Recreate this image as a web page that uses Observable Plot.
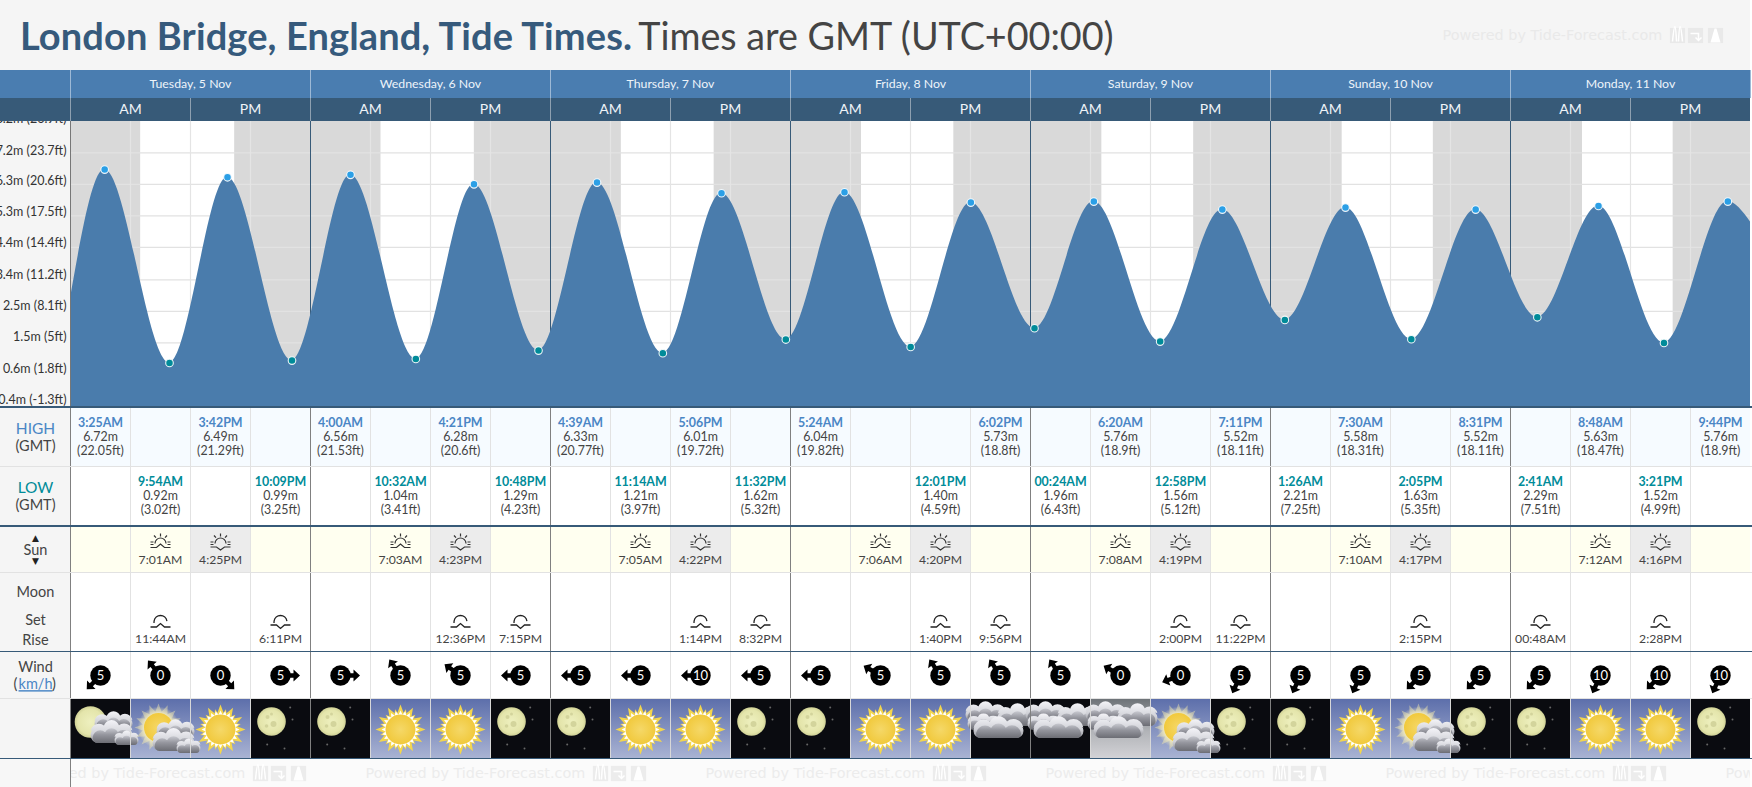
<!doctype html>
<html><head><meta charset="utf-8">
<script src="https://cdn.jsdelivr.net/npm/d3@7"></script>
<script src="https://cdn.jsdelivr.net/npm/@observablehq/plot@0.6"></script>
<style>
html,body{margin:0;padding:0;background:#fff;overflow:hidden;width:1752px;height:787px;font-family:Lato,sans-serif}
#title{position:absolute;left:20px;top:12px;font-size:37.7px;line-height:46px;white-space:nowrap;color:#444}
#title b{color:#365a7c;font-weight:700;font-size:38px;letter-spacing:.11px}
#title span{margin-left:-3.5px}
.u text{text-decoration:underline}
svg{display:block}
</style></head><body>
<div id="chart"></div>
<div id="title"><b>London Bridge, England, Tide Times.</b> <span>Times are GMT (UTC+00:00)</span></div>
<script>
const dayLabels = ["Tuesday, 5 Nov","Wednesday, 6 Nov","Thursday, 7 Nov","Friday, 8 Nov","Saturday, 9 Nov","Sunday, 10 Nov","Monday, 11 Nov"];
const highDay  = [0,0,1,1,2,2,3,3,4,4,5,5,6,6];
const highTime = ["3:25AM","3:42PM","4:00AM","4:21PM","4:39AM","5:06PM","5:24AM","6:02PM","6:20AM","7:11PM","7:30AM","8:31PM","8:48AM","9:44PM"];
const highM    = [6.72,6.49,6.56,6.28,6.33,6.01,6.04,5.73,5.76,5.52,5.58,5.52,5.63,5.76];
const highFt   = [22.05,21.29,21.53,20.6,20.77,19.72,19.82,18.8,18.9,18.11,18.31,18.11,18.47,18.9];
const lowDay   = [0,0,1,1,2,2,3,4,4,5,5,6,6];
const lowTime  = ["9:54AM","10:09PM","10:32AM","10:48PM","11:14AM","11:32PM","12:01PM","00:24AM","12:58PM","1:26AM","2:05PM","2:41AM","3:21PM"];
const lowM     = [0.92,0.99,1.04,1.29,1.21,1.62,1.40,1.96,1.56,2.21,1.63,2.29,1.52];
const lowFt    = [3.02,3.25,3.41,4.23,3.97,5.32,4.59,6.43,5.12,7.25,5.35,7.51,4.99];
const edgeHour = [0,168];
const edgeFt   = [9.36,16.9];
const tickFt   = [26.9,23.7,20.6,17.5,14.4,11.2,8.1,5,1.8,-1.3];
const tickM    = ["8.2","7.2","6.3","5.3","4.4","3.4","2.5","1.5","0.6","-0.4"];
const sunrise  = ["7:01AM","7:03AM","7:05AM","7:06AM","7:08AM","7:10AM","7:12AM"];
const sunset   = ["4:25PM","4:23PM","4:22PM","4:20PM","4:19PM","4:17PM","4:16PM"];
const moonDay  = [0,0,1,1,2,2,3,3,4,4,5,6,6];
const moonTime = ["11:44AM","6:11PM","12:36PM","7:15PM","1:14PM","8:32PM","1:40PM","9:56PM","2:00PM","11:22PM","2:15PM","00:48AM","2:28PM"];
const moonKind = ["rise","set","rise","set","rise","set","rise","set","rise","set","rise","set","rise"];
const windSpeed = [5,0,0,5, 5,5,5,5, 5,5,10,5, 5,5,5,5, 5,0,0,5, 5,5,5,5, 5,10,10,10];
const windDir   = [225,320,135,90, 90,325,305,270, 270,270,270,270, 270,300,325,325, 325,300,250,205, 205,205,225,225, 225,205,225,205];
const wxKind = ["nightCloud","dayCloud","sun","moon","moon","sun","sun","moon","moon","sun","sun","moon","moon","sun","sun","overNight","overNight","overDay","dayCloud","moon","moon","sun","dayCloud","moon","moon","sun","sun","moon"];
const markRepeats = [-4.5,29.5,63.5,97.5,131.5,165.5];
const headerMark = [137.2];

const hourOf = s => { const m = s.match(/(\d+):(\d+)(AM|PM)/); return (+m[1] % 12) + (+m[2]) / 60 + (m[3] === "PM" ? 12 : 0); };
const cellOf = (day, s) => day * 4 + Math.floor(hourOf(s) / 6);
const abs = (day, s) => day * 24 + hourOf(s);
const cellX = i => i * 6 + 3;

const highs = highTime.map((t,i)=>({t,cell:cellOf(highDay[i],t),h:abs(highDay[i],t),m:highM[i],ft:highFt[i]}));
const lows  = lowTime.map((t,i)=>({t,cell:cellOf(lowDay[i],t),h:abs(lowDay[i],t),m:lowM[i],ft:lowFt[i]}));
const edges = edgeHour.map((h,i)=>({h,ft:edgeFt[i]}));
const tide  = [...edges,...highs,...lows].sort((a,b)=>a.h-b.h);
const nights = d3.range(8).map(d=>({a: d===0?0:abs(d-1,sunset[d-1]), b: d===7?168:abs(d,sunrise[d])}));
const sunCells = [...sunrise.map((t,d)=>({t,kind:"rise",cell:cellOf(d,t)})),...sunset.map((t,d)=>({t,kind:"set",cell:cellOf(d,t)}))];
const moons = moonTime.map((t,i)=>({t,kind:moonKind[i],cell:cellOf(moonDay[i],t)}));
const cells = d3.range(28);
const days  = d3.range(7);
const wind  = cells.map(i=>({i,s:windSpeed[i],dir:windDir[i]}));
const wx    = cells.map(i=>({i,kind:wxKind[i]}));

const cellLines = () => cells.filter(i=>i%4);
const rulesOf = (cellColor,dayColor)=>[
  Plot.ruleX(cellLines(),{x:i=>i*6,stroke:cellColor}),
  Plot.ruleX(days,{x:d=>d*24,stroke:dayColor})
];
const paint = (left,row)=>`linear-gradient(to right,${left} 70px,${row} 70px,${row} 1750px,#fff 1750px)`;
function band(height, left, row, marks, border, extra={}){
  return Plot.plot({width:1752,height,marginLeft:70,marginRight:2,marginTop:0,marginBottom:0,
    x:{domain:[0,168],axis:null},
    style:{display:"block",fontFamily:"Lato",background:paint(left,row),borderBottom:border||"none",maxWidth:"none"},
    ...extra, marks});
}
const sideText=(label,dy,opts={})=>Plot.text([label],{frameAnchor:"left",textAnchor:"middle",dx:-35,dy,fontSize:15,fill:"#444",...opts});

/* icon shapes */
function sunIcon(kind){return {draw(c){
  c.moveTo(-5.5,2);c.arc(0,2,5.5,Math.PI,2*Math.PI);
  c.moveTo(0,-8);c.lineTo(0,-5);c.moveTo(-6.5,-6);c.lineTo(-4.5,-3.8);c.moveTo(6.5,-6);c.lineTo(4.5,-3.8);
  c.moveTo(-10,0.5);c.lineTo(-7,0.5);c.moveTo(10,0.5);c.lineTo(7,0.5);
  c.moveTo(-10,3);c.lineTo(-7,3);c.moveTo(10,3);c.lineTo(7,3);
  if(kind==="rise"){c.moveTo(-10,6);c.lineTo(-4,6);c.lineTo(0,2.5);c.lineTo(4,6);c.lineTo(10,6);}
  else{c.moveTo(-10,5.5);c.lineTo(-4,5.5);c.lineTo(0,8.5);c.lineTo(4,5.5);c.lineTo(10,5.5);}
}}}
function moonIcon(kind){return {draw(c){
  c.moveTo(-6.5,2);c.arc(0,1,6.5,Math.PI+0.15,2*Math.PI-0.15);
  if(kind==="rise"){c.moveTo(-10,6);c.lineTo(-4,6);c.lineTo(0,2.5);c.lineTo(4,6);c.lineTo(10,6);}
  else{c.moveTo(-10,4);c.lineTo(-4,4);c.lineTo(0,7.5);c.lineTo(4,4);c.lineTo(10,4);}
}}}
const star = (n,r1,r2)=>({draw(c){
  for(let k=0;k<n*2;k++){const a=k*Math.PI/n-Math.PI/2,r=k%2?r2:r1;
    const x=r*Math.cos(a),y=r*Math.sin(a);k?c.lineTo(x,y):c.moveTo(x,y);} c.closePath();
}});
const arrow={draw(c,l,r){
  c.moveTo(-2.2,-7);c.lineTo(-2.2,-13);c.lineTo(-6,-13);c.lineTo(0,-19.5);c.lineTo(6,-13);c.lineTo(2.2,-13);c.lineTo(2.2,-7);c.closePath();
}};
/* flat-bottomed cloud with three rounded lobes */
const cloudShape=(W,H)=>({draw(c){
  const b=H/2,t=-H/2,rb=H*0.36,lobe=[[W*0.3,W*0.2,t+H*0.28],[0,W*0.19,t+H*0.12],[-W*0.3,W*0.2,t+H*0.3]];
  c.moveTo(-W/2+rb,b);c.lineTo(W/2-rb,b);c.arc(W/2-rb,b-rb,rb,Math.PI/2,-Math.PI/2,true);
  for(const [cx,r,cy] of lobe){c.arc(cx,cy+r*0.55,r,-0.15,Math.PI+0.15,true);}
  c.arc(-W/2+rb,b-rb,rb,-Math.PI/2,Math.PI/2,true);c.closePath();
}});

/* repeated pale watermark */
const wave={draw(c){c.moveTo(-5,6);c.bezierCurveTo(-3,-14,-2,-14,-1,6);c.moveTo(1,6);c.bezierCurveTo(2,-14,3,-14,5,6);}};
const turn={draw(c){c.moveTo(-5,-2);c.lineTo(3,-2);c.lineTo(3,4);c.moveTo(0,2);c.lineTo(3,5);c.lineTo(6,2);}};
const peak={draw(c){c.moveTo(-5,7);c.lineTo(-1,-7);c.lineTo(1,-7);c.lineTo(5,7);c.closePath();}};
function watermark(starts,pale,clip){
  return [
    Plot.text(starts,{x:d=>d,text:()=>"Powered by Tide-Forecast.com",frameAnchor:"middle",textAnchor:"start",fontFamily:"DejaVu Sans",fontSize:14.4,fill:pale,clip}),
    ...[[23.5,wave,"none","#fff"],[25.3,turn,"none","#fff"],[27.3,peak,"#fff","none"]].flatMap(([off,sym,f,s])=>[
      Plot.dot(starts,{x:d=>d+off,frameAnchor:"middle",symbol:"square",r:8.6,fill:pale,clip}),
      Plot.dot(starts,{x:d=>d+off,frameAnchor:"middle",symbol:sym,r:5,fill:f,stroke:s,strokeWidth:1.5,clip})
    ])
  ];
}

/* sky scenes */
const defs = () => {
  const svg = d3.create("svg:defs");
  const lin=(id,stops)=>{const g=svg.append("linearGradient").attr("id",id).attr("x1",0).attr("x2",0).attr("y1",0).attr("y2",1);
    stops.forEach(([o,c])=>g.append("stop").attr("offset",o).attr("stop-color",c));};
  const rad=(id,stops)=>{const g=svg.append("radialGradient").attr("id",id);
    stops.forEach(([o,c,a])=>g.append("stop").attr("offset",o).attr("stop-color",c).attr("stop-opacity",a??1));};
  lin("skyDay",[[0,"#5d6fab"],[1,"#a9b3d3"]]);
  lin("skyGray",[[0,"#6e7378"],[0.55,"#b2b4b8"],[1,"#d2d2d6"]]);
  lin("cloud",[[0,"#f4f4f8"],[0.6,"#d0d1d7"],[1,"#8a8b92"]]);
  lin("cloudInner",[[0,"#c8c9d0"],[0.45,"#94959d"],[1,"#6c6d74"]]);
  rad("disc",[[0,"#f5d868"],[1,"#f1c93c"]]);
  rad("glow",[[0,"#fff6c0"],[0.62,"#fff6c0",0.9],[1,"#fff6c0",0]]);
  rad("moonFace",[[0,"#eef0bf"],[0.8,"#e4e5ab"],[1,"#cfd095"]]);
  return svg.node();
};
const clipCell = i => ({render(index,scales,values,dims,ctx,next){
  const g = next(index,scales,values,dims,ctx);
  const id = `cell-clip-${i}-${Math.random().toString(36).slice(2,8)}`;
  const cp = document.createElementNS("http://www.w3.org/2000/svg","clipPath");
  cp.setAttribute("id",id);
  const r = document.createElementNS("http://www.w3.org/2000/svg","rect");
  r.setAttribute("x",scales.x(i*6));r.setAttribute("width",scales.x(i*6+6)-scales.x(i*6));
  r.setAttribute("y",0);r.setAttribute("height",dims.height);
  cp.appendChild(r);g.appendChild(cp);g.setAttribute("clip-path",`url(#${id})`);
  return g;
}});
const cloudDots = (i,layers,ox=0,oy=0) => layers.flatMap(([dx,dy,W,H])=>[
  Plot.dot([i],{x:cellX,frameAnchor:"middle",dx:dx+ox,dy:dy+oy,symbol:cloudShape(W,H),r:5,fill:"url(#cloud)",...clipCell(i)}),
  Plot.dot([i],{x:cellX,frameAnchor:"middle",dx:dx+ox,dy:dy+oy+H*0.2,symbol:cloudShape(W*0.9,H*0.6),r:5,fill:"url(#cloudInner)",...clipCell(i)})
]);
const smallCloud = [[15,0,38,17],[13,11,42,22],[28,17,24,14]];
const overClouds = [[-15,-17,40,19],[17,-14,40,22],[-17,-7,32,15],[-2,-1,50,20]];

function moonScene(cellsList){
  const starOffsets=[[9.7,-21.5],[12,-9.5],[-13.3,15.5],[4,19.5]];
  const craters=[[-13,-12,2],[-7,-5,3],[-14,-3,1.8],[-9,-15,1.5]];
  return [
    Plot.dot(cellsList,{x:cellX,frameAnchor:"middle",dx:-9,dy:-7.5,r:14.3,fill:"url(#moonFace)"}),
    ...craters.map(([dx,dy,r])=>Plot.dot(cellsList,{x:cellX,frameAnchor:"middle",dx,dy,r,fill:"#d3d49c"})),
    ...starOffsets.map(([dx,dy])=>Plot.dot(cellsList,{x:cellX,frameAnchor:"middle",dx,dy,r:1,fill:"#666"}))
  ];
}
function sunScene(cellsList){
  return [
    Plot.dot(cellsList,{x:cellX,frameAnchor:"middle",dy:0.5,symbol:star(12,25,15),r:5,fill:"#f3d64e"}),
    Plot.dot(cellsList,{x:cellX,frameAnchor:"middle",dy:0.5,symbol:star(24,21,16),r:5,fill:"#f3d64e"}),
    Plot.dot(cellsList,{x:cellX,frameAnchor:"middle",dy:0.5,symbol:star(24,19,15),r:5,fill:"#fff"}),
    Plot.dot(cellsList,{x:cellX,frameAnchor:"middle",dy:0.5,r:15,fill:"url(#disc)"})
  ];
}
const wxOf = k => wx.filter(d=>d.kind===k).map(d=>d.i);
const nightList=[...wxOf("moon"),...wxOf("nightCloud"),...wxOf("overNight")];
const dayList=[...wxOf("sun"),...wxOf("dayCloud")];
const bgRect=(list,fill)=>Plot.rect(list,{x1:i=>i*6,x2:i=>i*6+6,fill});

const rows=[];
/* title strip with watermark */
rows.push(band(70,"#f5f5f5","#f5f5f5",[...watermark(headerMark,"#e9e9e9")]));
/* day band */
rows.push(band(28,"#4a7db0","#4a7db0",[
  Plot.ruleX([...days,7],{x:d=>d*24,stroke:"#9db9d6"}),
  Plot.text(dayLabels,{x:(d,i)=>i*24+12,text:d=>d,frameAnchor:"middle",fontSize:12.3,fill:"#eef4fa"})
]));
/* AM / PM band */
rows.push(band(23,"#375a78","#375a78",[
  Plot.ruleX(days,{x:d=>d*24+12,stroke:"#8ea0b0"}),
  Plot.ruleX(days,{x:d=>d*24,stroke:"#8ea0b0"}),
  Plot.text(days.flatMap(d=>[{x:d*24+6,t:"AM"},{x:d*24+18,t:"PM"}]),{x:"x",text:"t",frameAnchor:"middle",fontSize:14,fill:"#f0f4f8"})
]));
/* tide chart */
rows.push(band(285,"#f5f5f5","#ffffff",[
  Plot.rect(nights,{x1:"a",x2:"b",fill:"#d9d9d9"}),
  Plot.gridY(tickFt,{stroke:"#e2e2e2",strokeOpacity:1,strokeWidth:1.2}),
  Plot.ruleX(cellLines(),{x:i=>i*6,stroke:"#e4e4e4",strokeWidth:1.2}),
  Plot.ruleX(days,{x:d=>d*24,stroke:"#375a78"}),
  Plot.areaY(tide,{x:"h",y1:-1.3,y2:"ft",curve:"monotone-x",fill:"#4a7cac"}),
  Plot.dot(highs,{x:"h",y:"ft",r:3.8,fill:"#2b9fe6",stroke:"#fff",strokeOpacity:0.9,strokeWidth:1.1}),
  Plot.dot(lows,{x:"h",y:"ft",r:3.8,fill:"#008b99",stroke:"#fff",strokeOpacity:0.9,strokeWidth:1.1}),
  Plot.ruleX([0],{x:d=>d,stroke:"#777"}),
  Plot.text(tickFt,{y:ft=>23.7+(ft-23.7)*0.981,frameAnchor:"left",textAnchor:"end",dx:-4,dy:-2.3,fontSize:12.5,fill:"#333",
    text:(ft,i)=>`${tickM[i]}m (${ft}ft)`})
],"2px solid #375a78",{y:{axis:null,domain:[-1.3,26.9],range:[285.3,-1.2]}}));

const tideRow=(list,color,label)=>[
  ...rulesOf("#e2e2e2","#808080"),
  Plot.text(list,{x:d=>cellX(d.cell),text:"t",frameAnchor:"middle",dy:-14,fontSize:12.4,fontWeight:700,fill:color}),
  Plot.text(list,{x:d=>cellX(d.cell),text:d=>d.m.toFixed(2)+"m",frameAnchor:"middle",fontSize:12.4,fill:"#444"}),
  Plot.text(list,{x:d=>cellX(d.cell),text:d=>`(${d.ft}ft)`,frameAnchor:"middle",dy:14,fontSize:12.4,fill:"#444"}),
  sideText(label,-8,{fontSize:15.5,fill:color}),
  sideText("(GMT)",9,{fontSize:14.5})
];
rows.push(band(58,"#f5f5f5","#f6fbff",tideRow(highs,"#4a86c5","HIGH"),"1px solid #e2e2e2"));
rows.push(band(58,"#f5f5f5","#ffffff",tideRow(lows,"#008c99","LOW"),"2px solid #375a78"));
/* sun */
rows.push(band(45,"#f5f5f5","#fffff0",[
  Plot.rect(sunCells.filter(d=>d.kind==="set"),{x1:d=>d.cell*6,x2:d=>d.cell*6+6,fill:"#ececec"}),
  ...rulesOf("#e2e2e2","#808080"),
  ...["rise","set"].map(k=>Plot.dot(sunCells.filter(d=>d.kind===k),{x:d=>cellX(d.cell),frameAnchor:"middle",dy:-8.5,symbol:sunIcon(k),r:5,stroke:"#333",strokeWidth:1.2,fill:"none"})),
  Plot.text(sunCells,{x:d=>cellX(d.cell),text:"t",frameAnchor:"middle",dy:10.5,fontSize:12.2,fill:"#444"}),
  sideText("▲",-11.5,{fontSize:9,fill:"#222",fontFamily:"DejaVu Sans"}),
  sideText("Sun",0.5,{fontSize:14.5}),
  sideText("▼",11,{fontSize:9,fill:"#222",fontFamily:"DejaVu Sans"})
],"1px solid #e2e2e2"));
/* moon */
rows.push(band(78,"#f5f5f5","#ffffff",[
  ...rulesOf("#e2e2e2","#808080"),
  ...["rise","set"].map(k=>Plot.dot(moons.filter(d=>d.kind===k),{x:d=>cellX(d.cell),frameAnchor:"middle",dy:8.5,symbol:moonIcon(k),r:5,stroke:"#222",strokeWidth:1.3,fill:"none"})),
  Plot.text(moons,{x:d=>cellX(d.cell),text:"t",frameAnchor:"middle",dy:27,fontSize:12.2,fill:"#444"}),
  sideText("Moon",-20,{fontSize:14.5}),
  sideText("Set",8,{fontSize:14.5}),
  sideText("Rise",28,{fontSize:14.5})
],"1px solid #375a78"));
/* wind */
rows.push(band(46,"#f5f5f5","#ffffff",[
  ...rulesOf("#e2e2e2","#808080"),
  Plot.vector(wind,{x:d=>cellX(d.i),frameAnchor:"middle",rotate:"dir",length:19,anchor:"start",shape:arrow,fill:"#000",stroke:"none"}),
  Plot.dot(wind,{x:d=>cellX(d.i),frameAnchor:"middle",r:10.2,fill:"#000"}),
  Plot.text(wind,{x:d=>cellX(d.i),text:"s",frameAnchor:"middle",fontSize:13,fill:"#fff"}),
  sideText("Wind",-8,{fontSize:14.5}),
  sideText("(",9,{dx:-55,fontSize:14.5}),
  sideText("km/h",9,{fontSize:14.5,fill:"#4a86c5",className:"u"}),
  sideText(")",9,{dx:-16.5,fontSize:14.5})
],"1px solid #e2e2e2"));
/* weather pictures */
rows.push(band(59,"#f5f5f5","#ffffff",[
  defs,
  bgRect(nightList,"#0a0b10"),
  bgRect(dayList,"url(#skyDay)"),
  bgRect(wxOf("overDay"),"url(#skyGray)"),
  ...moonScene(wxOf("moon")),
  ...sunScene(wxOf("sun")),
  ...wxOf("nightCloud").flatMap(i=>[
    Plot.dot([i],{x:cellX,frameAnchor:"middle",dx:-10,dy:-7,r:15.8,fill:"url(#moonFace)"}),
    ...cloudDots(i,smallCloud,-2,-8)]),
  ...wxOf("dayCloud").flatMap(i=>[
    Plot.dot([i],{x:cellX,frameAnchor:"middle",dx:-2,dy:-1.5,symbol:star(16,24,16),r:5,fill:"#f7ecae",fillOpacity:0.45,...clipCell(i)}),
    Plot.dot([i],{x:cellX,frameAnchor:"middle",dx:-2,dy:-1.5,r:21,fill:"url(#glow)",...clipCell(i)}),
    Plot.dot([i],{x:cellX,frameAnchor:"middle",dx:-2,dy:-1.5,r:14.5,fill:"url(#disc)"}),
    ...cloudDots(i,smallCloud)]),
  ...[...wxOf("overNight"),...wxOf("overDay")].flatMap(i=>cloudDots(i,overClouds)),
  ...rulesOf("#d8d8d8","#808080")
],"1px solid #375a78"));
/* footer */
rows.push(band(28,"#f7f7f7","#fbfbfb",[
  ...watermark(markRepeats,"#ececec","frame"),
  Plot.ruleX([0],{x:d=>d,stroke:"#808080"})
]));
const host=document.getElementById("chart");
rows.forEach(r=>host.appendChild(r));
</script></body></html>
